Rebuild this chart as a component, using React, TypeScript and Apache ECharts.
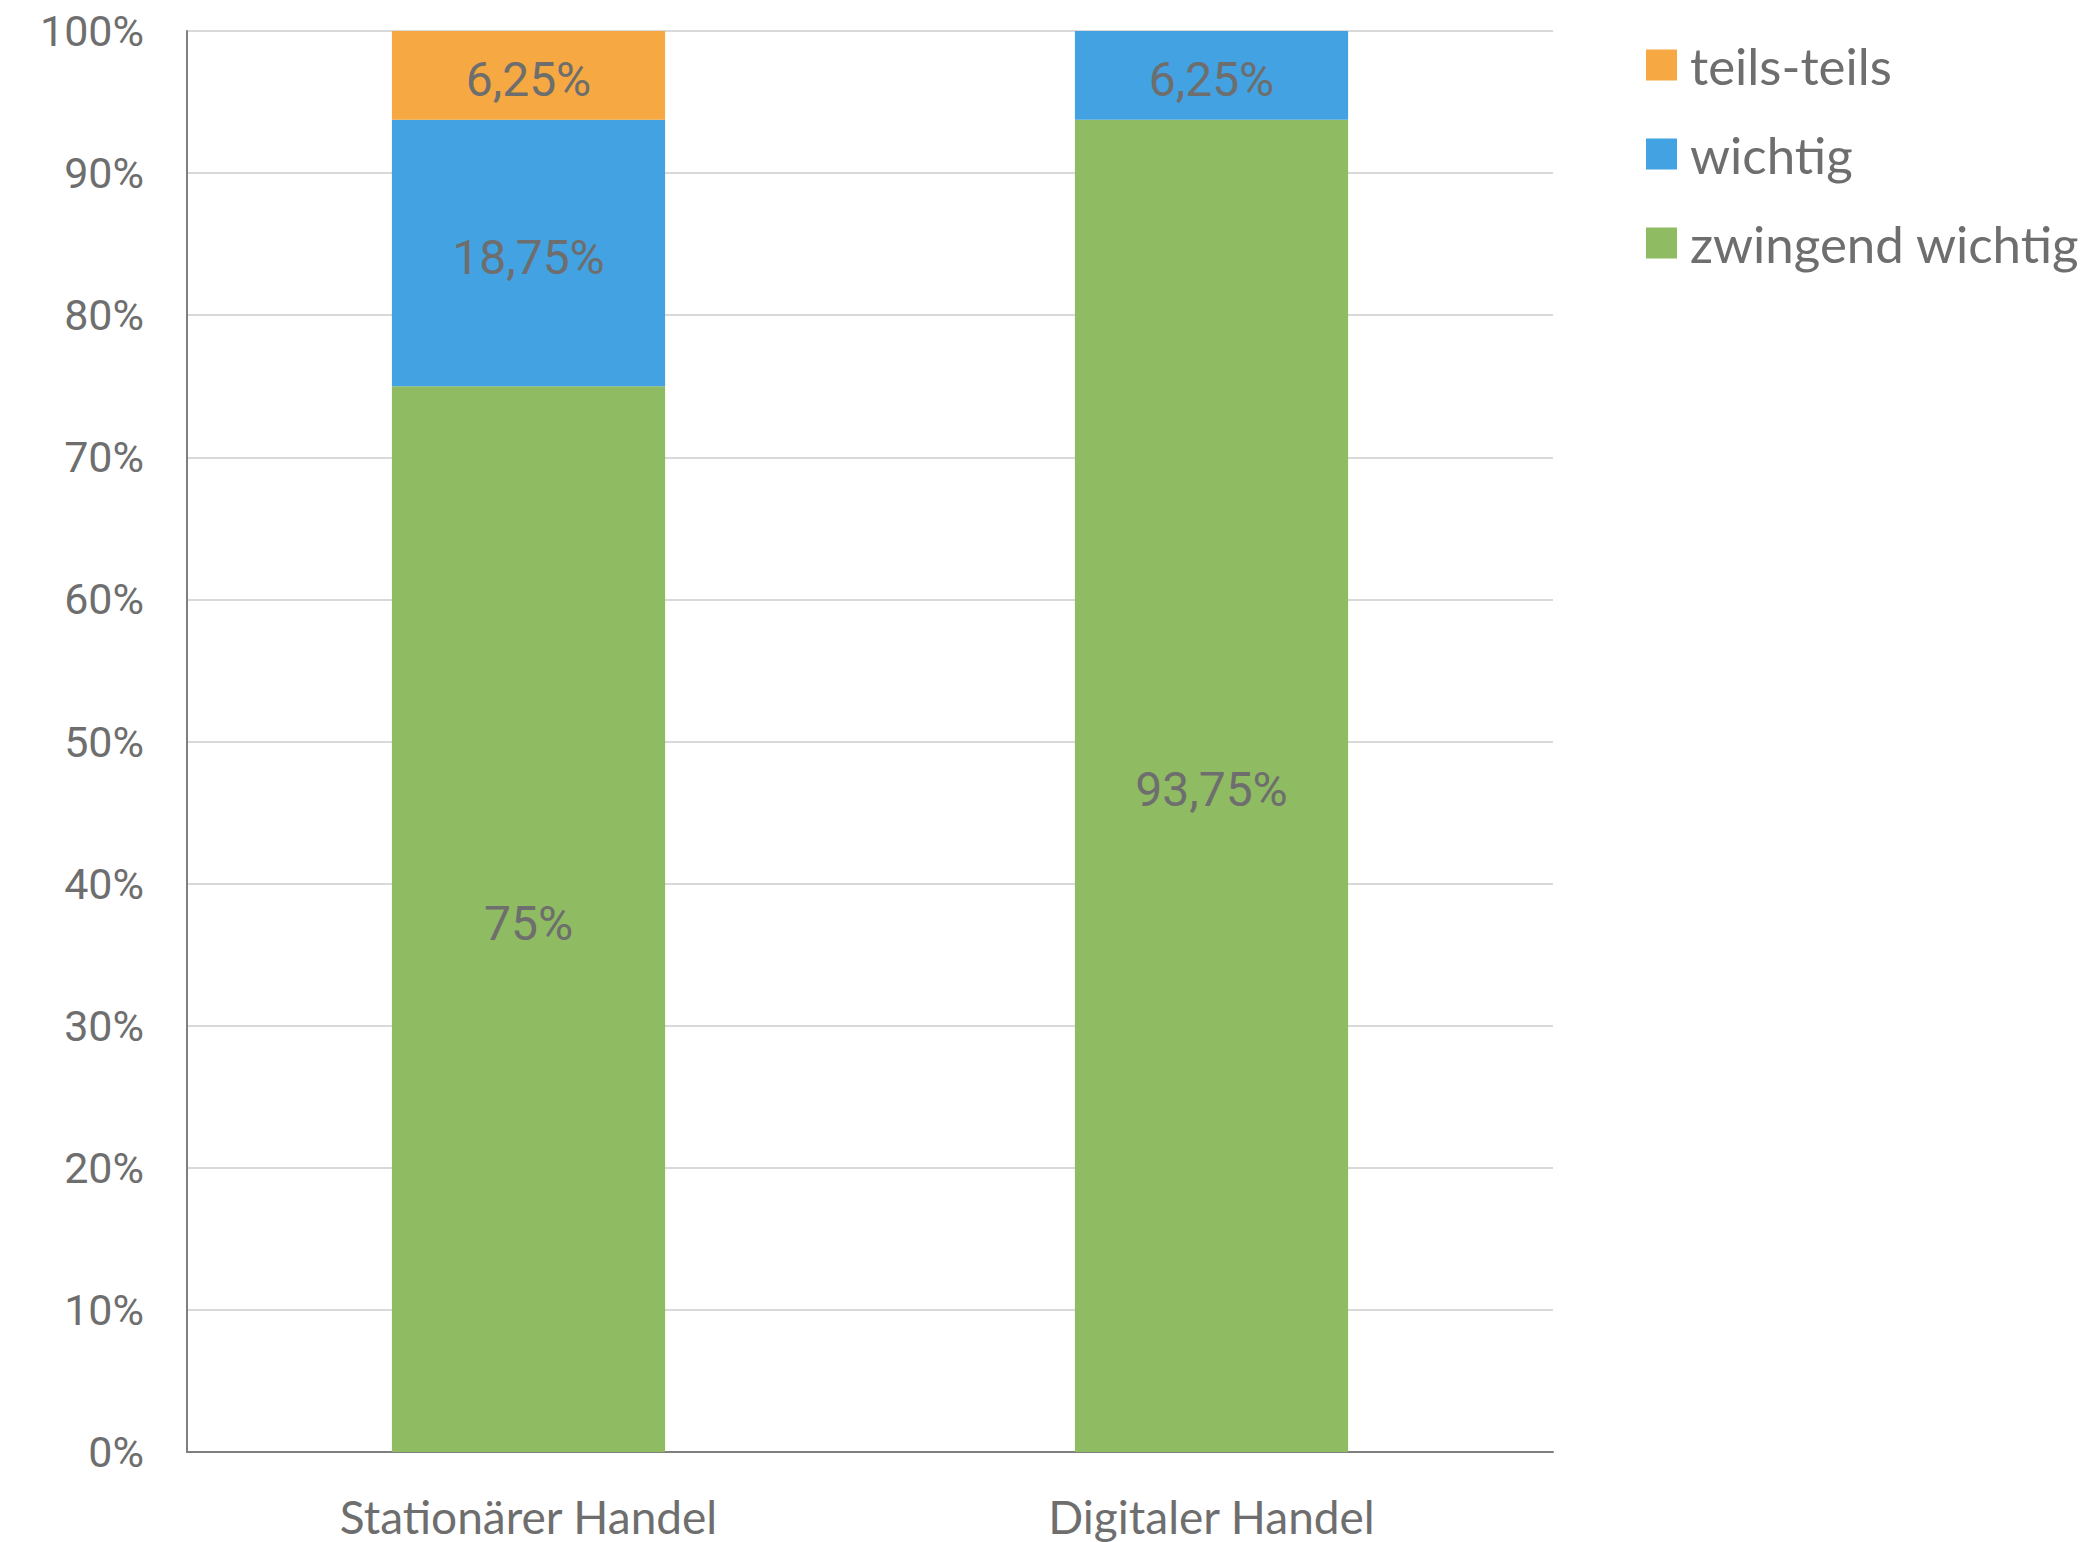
import React, { useEffect, useRef } from "react";
import * as echarts from "echarts";

const categories = ["Stationärer Handel", "Digitaler Handel"];
const zwingendWichtig = [75, 93.75];
const wichtig = [18.75, 6.25];
const teilsTeils = [6.25, 0];
const legendNames = ["teils-teils", "wichtig", "zwingend wichtig"];
const yTicks = [0, 10, 20, 30, 40, 50, 60, 70, 80, 90, 100];

const fmt = (v: number) => (v === 0 ? "" : String(v).replace(".", ",") + "%");

export default function App() {
  const ref = useRef<HTMLDivElement>(null);
  useEffect(() => {
    document.body.style.margin = "0";
    const chart = echarts.init(ref.current!, null, { renderer: "svg" });
    const labelCfg = {
      show: true,
      position: "inside" as const,
      offset: [0, 4],
      color: "#6e6e6e",
      fontFamily: "Roboto",
      fontSize: 48,
      formatter: (p: any) => fmt(p.value),
    };
    chart.setOption({
      animation: false,
      backgroundColor: "#ffffff",
      grid: { left: 187, right: 538, top: 31, bottom: 90, containLabel: false },
      legend: {
        orient: "vertical",
        left: 1641,
        top: 32,
        itemWidth: 31,
        itemHeight: 31,
        itemGap: 33,
        icon: "rect",
        data: legendNames,
        textStyle: {
          color: "#6e6e6e",
          fontFamily: "Lato",
          fontSize: 51,
          lineHeight: 56,
          padding: [0, 0, 0, 8],
        },
      },
      xAxis: {
        type: "category",
        data: categories,
        axisLine: { show: true, lineStyle: { color: "#7f7f7f", width: 2 } },
        axisTick: { show: false },
        axisLabel: {
          color: "#6e6e6e",
          fontFamily: "Lato",
          fontSize: 46,
          margin: 41,
        },
      },
      yAxis: {
        type: "value",
        min: 0,
        max: 100,
        interval: 10,
        axisLine: { show: true, lineStyle: { color: "#7f7f7f", width: 2 } },
        axisTick: { show: false },
        splitLine: { lineStyle: { color: "#d9d9d9", width: 2 } },
        axisLabel: {
          color: "#6e6e6e",
          fontFamily: "Roboto",
          fontSize: 43,
          margin: 43,
          padding: [8, 0, 0, 0],
          formatter: (v: number) => (yTicks.includes(v) ? v + "%" : ""),
        },
      },
      series: [
        {
          name: "zwingend wichtig",
          type: "bar",
          stack: "total",
          barWidth: "40%",
          data: zwingendWichtig,
          itemStyle: { color: "#8fbb62" },
          label: labelCfg,
        },
        {
          name: "wichtig",
          type: "bar",
          stack: "total",
          barWidth: "40%",
          data: wichtig,
          itemStyle: { color: "#43a2e1" },
          label: labelCfg,
        },
        {
          name: "teils-teils",
          type: "bar",
          stack: "total",
          barWidth: "40%",
          data: teilsTeils,
          itemStyle: { color: "#f6a942" },
          label: labelCfg,
        },
      ],
    });
    return () => chart.dispose();
  }, []);
  return (
    <div
      ref={ref}
      style={{ position: "fixed", left: 0, top: 0, width: 2091, height: 1542 }}
    />
  );
}
